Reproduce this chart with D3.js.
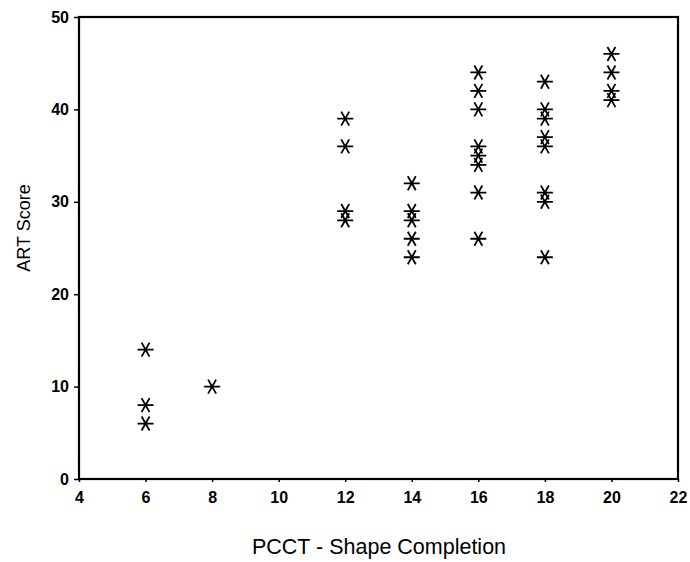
<!DOCTYPE html>
<html>
<head>
<meta charset="utf-8">
<script src="https://cdn.jsdelivr.net/npm/d3@7"></script>
<style>
  body { margin: 0; background: #fff; }
  text { font-family: "Liberation Sans", Arial, sans-serif; fill: #000; }
</style>
</head>
<body>
<svg width="690" height="562"></svg>
<script>
// PCCT shape completion score vs ART score, one entry per subject
const pcct = [6, 6, 6, 8,
  12, 12, 12, 12,
  14, 14, 14, 14, 14,
  16, 16, 16, 16, 16, 16, 16, 16,
  18, 18, 18, 18, 18, 18, 18, 18,
  20, 20, 20, 20];
const art = [14, 8, 6, 10,
  39, 36, 29, 28,
  32, 29, 28, 26, 24,
  44, 42, 40, 36, 35, 34, 31, 26,
  43, 40, 39, 37, 36, 31, 30, 24,
  46, 44, 42, 41];
const xTicks = [4, 6, 8, 10, 12, 14, 16, 18, 20, 22];
const yTicks = [0, 10, 20, 30, 40, 50];

const svg = d3.select("svg"),
    width = +svg.attr("width"),
    height = +svg.attr("height");
const margin = {top: 17, right: 12, bottom: 83, left: 79};
const w = width - margin.left - margin.right,
    h = height - margin.top - margin.bottom;

const x = d3.scaleLinear().domain([4, 22]).range([0, w]);
const y = d3.scaleLinear().domain([0, 50]).range([h, 0]);

const g = svg.append("g")
    .attr("transform", `translate(${margin.left},${margin.top})`);

// y axis
const yAxis = g.append("g")
    .call(d3.axisLeft(y).tickValues(yTicks).tickSize(5).tickPadding(5).tickSizeOuter(0));
yAxis.select(".domain").remove();
yAxis.selectAll("line").attr("stroke-width", 1.5);
yAxis.selectAll("text")
    .style("font-size", "16px").style("font-weight", "bold")
    .style("font-family", "Liberation Sans, Arial");

// x axis
const xAxis = g.append("g")
    .attr("transform", `translate(0,${h})`)
    .call(d3.axisBottom(x).tickValues(xTicks).tickSize(3).tickPadding(10).tickSizeOuter(0));
xAxis.select(".domain").remove();
xAxis.selectAll("line").attr("stroke-width", 1.5);
xAxis.selectAll("text")
    .style("font-size", "16px").style("font-weight", "bold")
    .style("font-family", "Liberation Sans, Arial");

// frame
g.append("rect")
    .attr("width", w).attr("height", h)
    .attr("fill", "none").attr("stroke", "#000").attr("stroke-width", 2.2);

// asterisk markers
const star = "M-8,0L8,0M-4,-7L4,7M-4,7L4,-7";
g.append("g").selectAll("path")
    .data(pcct.map((d, i) => ({x: d, y: art[i]})))
    .enter().append("path")
    .attr("transform", d => `translate(${x(d.x)},${y(d.y)})`)
    .attr("d", star)
    .attr("fill", "none")
    .attr("stroke", "#000")
    .attr("stroke-width", 1.8);

// titles
svg.append("text")
    .attr("x", 379).attr("y", 554)
    .attr("text-anchor", "middle")
    .style("font-size", "21.5px")
    .text("PCCT - Shape Completion");

svg.append("text")
    .attr("transform", "translate(30,228) rotate(-90)")
    .attr("text-anchor", "middle")
    .style("font-size", "18px")
    .text("ART Score");
</script>
</body>
</html>
